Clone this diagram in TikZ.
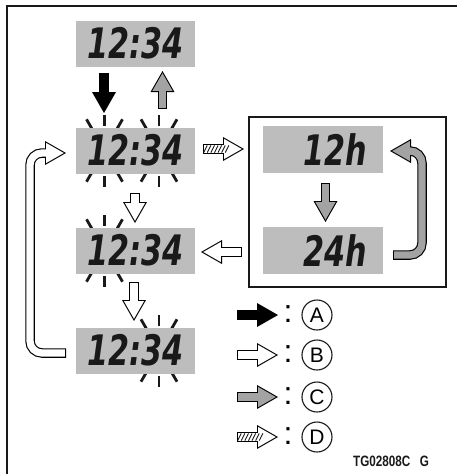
\documentclass[tikz,border=0pt]{standalone}
\usepackage{fontspec}
\usepackage{graphicx}
\setmainfont{Liberation Sans}
\newfontfamily\lcdfont{DejaVu Sans}
\usepackage{pgf, tikz}
\usetikzlibrary{arrows.meta, decorations.markings}
\pgfdeclarelayer{edgelayer}
\pgfdeclarelayer{nodelayer}
\pgfsetlayers{edgelayer,nodelayer,main}
\definecolor{lcdgray}{gray}{0.74}
\definecolor{arrowgray}{gray}{0.64}
\definecolor{ink}{gray}{0.1}
\newcommand{\lcd}[1]{\scalebox{0.72}[1]{\lcdfont\bfseries\itshape\fontsize{42}{42}\selectfont #1}}
\tikzstyle{none}=[inner sep=0pt]
\tikzstyle{frame}=[draw=ink, line width=2pt]
\tikzstyle{display}=[fill=lcdgray, minimum width=119pt, minimum height=46pt, inner sep=0pt, text=ink]
\tikzstyle{hdisplay}=[fill=lcdgray, text width=88pt, align=right, inner xsep=16pt, inner ysep=0pt, minimum height=47pt, text=ink]
\tikzstyle{modebox}=[draw=ink, line width=1.3pt, minimum width=197pt, minimum height=170pt]
\tikzstyle{ray}=[draw=ink, line width=2.8pt]
\tikzstyle{fatout}=[draw=black, line width=9.5pt, -{Triangle[length=21pt, width=24pt, line width=0pt]}]
\tikzstyle{fatin}=[line width=7.2pt, shorten <=1.1pt, shorten >=2.2pt, -{Triangle[length=17.7pt, width=20.2pt, line width=0pt]}]
\tikzstyle{hatch}=[decorate, decoration={markings, mark=between positions 0.06 and 0.64 step 3.6pt with {\draw[ink, line width=0.9pt] (-1.8pt,-3.6pt) -- (1.8pt,3.6pt);}}]
\tikzstyle{badge}=[draw=ink, circle, line width=1.1pt, minimum size=30pt, inner sep=0pt, font=\fontsize{21}{21}\selectfont]
\tikzstyle{colon}=[inner sep=0pt, font=\fontsize{32}{32}\selectfont]

\begin{document}
\begin{tikzpicture}[x=1pt, y=-1pt]
			\useasboundingbox (0,0) rectangle (457,475);
			\begin{pgfonlayer}{nodelayer}
			\node [style=display] (3) at (135.5, 43.5) {\lcd{12:34}};
			\node [style=display] (4) at (135.5, 150.5) {\lcd{12:34}};
			\node [style=display] (5) at (135.5, 250.5) {\lcd{12:34}};
			\node [style=display] (6) at (135.5, 350.5) {\lcd{12:34}};
			\node [style=modebox] (7) at (347.5, 202) {};
			\node [style=hdisplay] (8) at (323, 149.5) {\lcd{12h}};
			\node [style=hdisplay] (9) at (323, 250.5) {\lcd{24h}};
			\node [style=badge] (40) at (317, 315) {A};
			\node [style=badge] (41) at (317, 355) {B};
			\node [style=badge] (42) at (317, 397) {C};
			\node [style=badge] (43) at (317, 437) {D};
			\node [style=colon] (44) at (288, 314) {:};
			\node [style=colon] (45) at (288, 354) {:};
			\node [style=colon] (46) at (288, 396) {:};
			\node [style=colon] (47) at (288, 436) {:};
			\node [style=none, anchor=west, text=ink] (48) at (353, 461) {\scalebox{0.78}[1]{\bfseries\fontsize{15}{15}\selectfont TG02808C\hspace{12pt}G}};
			\end{pgfonlayer}
			\begin{pgfonlayer}{edgelayer}
			\node [style=none] (10) at (104, 73) {};
			\node [style=none] (11) at (104, 113) {};
			\node [style=none] (12) at (162.5, 109) {};
			\node [style=none] (13) at (162.5, 71) {};
			\node [style=none] (14) at (203, 149) {};
			\node [style=none] (15) at (244, 149) {};
			\node [style=none] (16) at (135, 193) {};
			\node [style=none] (17) at (135, 223) {};
			\node [style=none] (18) at (242, 252) {};
			\node [style=none] (19) at (201, 252) {};
			\node [style=none] (20) at (134, 282) {};
			\node [style=none] (21) at (134, 321) {};
			\node [style=none] (22) at (325.5, 183) {};
			\node [style=none] (23) at (325.5, 222) {};
			\node [style=none] (24) at (66, 353) {};
			\node [style=none] (25) at (30, 353) {};
			\node [style=none] (26) at (30, 153) {};
			\node [style=none] (27) at (66, 153) {};
			\node [style=none] (28) at (393, 255) {};
			\node [style=none] (29) at (422, 255) {};
			\node [style=none] (30) at (422, 151) {};
			\node [style=none] (31) at (390, 151) {};
			\node [style=none] (32) at (237, 315) {};
			\node [style=none] (33) at (278, 315) {};
			\node [style=none] (34) at (237, 355) {};
			\node [style=none] (35) at (278, 355) {};
			\node [style=none] (36) at (237, 397) {};
			\node [style=none] (37) at (278, 397) {};
			\node [style=none] (38) at (237, 437) {};
			\node [style=none] (39) at (278, 437) {};
			\node [style=none] (49) at (104.5, 150.5) {};
			\node [style=none] (50) at (159, 150.5) {};
			\node [style=none] (51) at (104.5, 250.5) {};
			\node [style=none] (52) at (159, 350.5) {};
			\node [style=none] (55) at (7, 474) {};
			\node [style=none] (56) at (7, 6) {};
			\node [style=none] (57) at (457, 6) {};
			\draw [style=frame] (55.center) -- (56.center) -- (57.center);
			% blinking digits
			\foreach \c in {49,50,51,52}
				\foreach \a in {60,90,120,240,270,300}
					\draw [style=ray] ([shift={(\a:25)}]\c.center) -- ([shift={(\a:36)}]\c.center);
			\draw [style=fatout] (10.center) to (11.center);
			\draw [style=fatout] (12.center) to (13.center);
			\draw [style=fatin, draw=arrowgray] (12.center) to (13.center);
			\draw [style=fatout] (14.center) to (15.center);
			\draw [style=fatin, draw=white] (14.center) to (15.center);
			\path [style=hatch] (14.center) to (15.center);
			\draw [style=fatout] (16.center) to (17.center);
			\draw [style=fatin, draw=white] (16.center) to (17.center);
			\draw [style=fatout] (18.center) to (19.center);
			\draw [style=fatin, draw=white] (18.center) to (19.center);
			\draw [style=fatout] (20.center) to (21.center);
			\draw [style=fatin, draw=white] (20.center) to (21.center);
			\draw [style=fatout] (22.center) to (23.center);
			\draw [style=fatin, draw=arrowgray] (22.center) to (23.center);
			\draw [style=fatout, rounded corners=12pt] (24.center) -- (25.center) -- (26.center) -- (27.center);
			\draw [style=fatin, draw=white, rounded corners=12pt] (24.center) -- (25.center) -- (26.center) -- (27.center);
			\draw [style=fatout, rounded corners=12pt] (28.center) -- (29.center) -- (30.center) -- (31.center);
			\draw [style=fatin, draw=arrowgray, rounded corners=12pt] (28.center) -- (29.center) -- (30.center) -- (31.center);
			% legend
			\draw [style=fatout] (32.center) to (33.center);
			\draw [style=fatout] (34.center) to (35.center);
			\draw [style=fatin, draw=white] (34.center) to (35.center);
			\draw [style=fatout] (36.center) to (37.center);
			\draw [style=fatin, draw=arrowgray] (36.center) to (37.center);
			\draw [style=fatout] (38.center) to (39.center);
			\draw [style=fatin, draw=white] (38.center) to (39.center);
			\path [style=hatch] (38.center) to (39.center);
			\end{pgfonlayer}
\end{tikzpicture}
\end{document}
